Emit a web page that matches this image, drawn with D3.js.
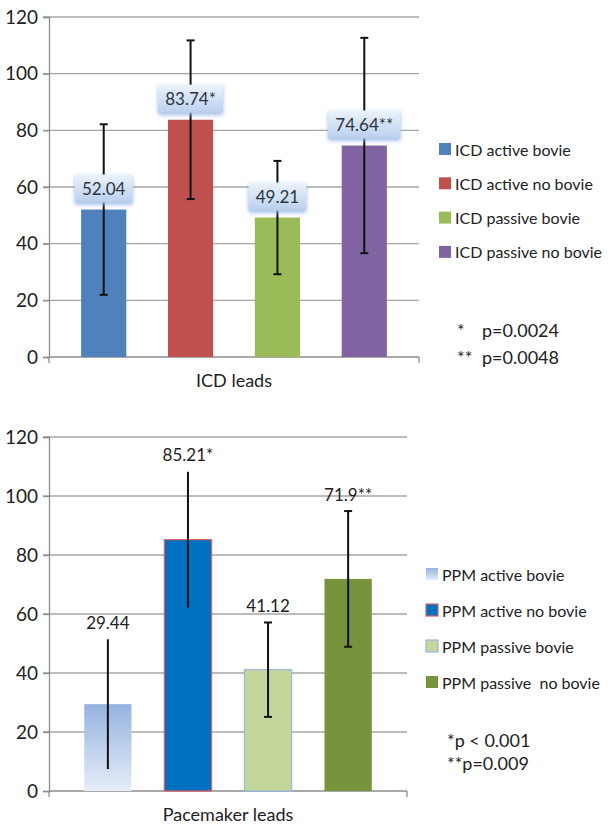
<!DOCTYPE html>
<html>
<head>
<meta charset="utf-8">
<script src="https://cdn.jsdelivr.net/npm/d3@7"></script>
<style>
  body { margin: 0; background: #fff; }
  svg { display: block; font-family: Lato, "Open Sans", sans-serif; }
</style>
</head>
<body>
<div id="chart"></div>
<script>
const width = 609;
const height = 825;

// shared value axis
const yTicks = [0, 20, 40, 60, 80, 100, 120];

// ICD leads panel
const icdSeries = ["ICD active bovie", "ICD active no bovie", "ICD passive bovie", "ICD passive no bovie"];
const icdMeans = [52.04, 83.74, 49.21, 74.64];
const icdErrors = [30.1, 28, 20, 38];
const icdLabels = ["52.04", "83.74*", "49.21", "74.64**"];
const icdNoteMarks = ["*", "**"];
const icdNoteP = ["p=0.0024", "p=0.0048"];

// Pacemaker leads panel
const ppmSeries = ["PPM active bovie", "PPM active no bovie", "PPM passive bovie", "PPM passive  no bovie"];
const ppmMeans = [29.44, 85.21, 41.12, 71.9];
const ppmErrors = [22, 23, 16, 23];
const ppmLabels = ["29.44", "85.21*", "41.12", "71.9**"];
const ppmNotes = ["*p < 0.001", "**p=0.009"];

const svg = d3.select("#chart")
  .append("svg")
    .attr("width", width)
    .attr("height", height);

svg.append("rect").attr("width", width).attr("height", height).attr("fill", "#fff");

const defs = svg.append("defs");

const boxGrad = defs.append("linearGradient")
  .attr("id", "boxGrad").attr("x1", 0).attr("y1", 0).attr("x2", 0).attr("y2", 1);
boxGrad.append("stop").attr("offset", "0%").attr("stop-color", "#edf3fb");
boxGrad.append("stop").attr("offset", "100%").attr("stop-color", "#b9cfee");

const glow = defs.append("filter").attr("id", "glow")
  .attr("x", "-20%").attr("y", "-20%").attr("width", "140%").attr("height", "160%");
glow.append("feGaussianBlur").attr("in", "SourceAlpha").attr("stdDeviation", 2).attr("result", "b");
glow.append("feFlood").attr("flood-color", "#8fb2e3").attr("flood-opacity", 0.9);
glow.append("feComposite").attr("in2", "b").attr("operator", "in").attr("result", "g");
glow.append("feOffset").attr("in", "g").attr("dy", 2).attr("result", "go");
const merge = glow.append("feMerge");
merge.append("feMergeNode").attr("in", "go");
merge.append("feMergeNode").attr("in", "SourceGraphic");

const lightBlue = defs.append("linearGradient")
  .attr("id", "ppmLight").attr("x1", 0).attr("y1", 0).attr("x2", 0).attr("y2", 1);
lightBlue.append("stop").attr("offset", "0%").attr("stop-color", "#95b3e0");
lightBlue.append("stop").attr("offset", "100%").attr("stop-color", "#e6edf8");

const icdStyles = [
  { fill: "#4f81bd", stroke: "none", caps: true },
  { fill: "#c0504d", stroke: "none", caps: true },
  { fill: "#9bbb59", stroke: "none", caps: true },
  { fill: "#8064a2", stroke: "none", caps: true }
];
const ppmStyles = [
  { fill: "url(#ppmLight)", stroke: "none", caps: false },
  { fill: "#0070c0", stroke: "#e06060", caps: false },
  { fill: "#c3d69b", stroke: "#9ab8de", caps: true },
  { fill: "#77933c", stroke: "none", caps: true }
];

function drawPanel(opt) {
  const g = svg.append("g");
  const x = d3.scaleBand()
    .domain(opt.series)
    .range([opt.left, opt.right])
    .paddingInner(opt.padIn)
    .paddingOuter(opt.padOut);
  const y = d3.scaleLinear().domain([0, 120]).range([opt.bottom, opt.top]);

  // gridlines
  g.selectAll(".grid").data(yTicks.filter(t => t > 0)).enter()
    .append("line")
    .attr("x1", opt.left - 6).attr("x2", opt.right)
    .attr("y1", d => y(d)).attr("y2", d => y(d))
    .attr("stroke", "#a6a6a6").attr("stroke-width", 1.3);

  // value axis
  const yAxis = g.append("g")
    .attr("transform", `translate(${opt.left},0)`)
    .call(d3.axisLeft(y).tickValues(yTicks).tickSize(6).tickPadding(5));
  yAxis.select(".domain").attr("stroke", "#8c8c8c").attr("stroke-width", 1.3);
  yAxis.selectAll(".tick line").attr("stroke", "#8c8c8c").attr("stroke-width", 1.3);
  yAxis.selectAll(".tick text")
    .attr("fill", "#222").style("font-size", "19px").style("font-family", "Lato, sans-serif");

  // category axis
  g.append("line")
    .attr("x1", opt.left).attr("x2", opt.right)
    .attr("y1", opt.bottom).attr("y2", opt.bottom)
    .attr("stroke", "#8c8c8c").attr("stroke-width", 1.3);
  [opt.left, opt.right].forEach(px => {
    g.append("line")
      .attr("x1", px).attr("x2", px)
      .attr("y1", opt.bottom).attr("y2", opt.bottom + 6)
      .attr("stroke", "#8c8c8c").attr("stroke-width", 1.3);
  });

  g.append("text")
    .attr("x", (opt.left + opt.right) / 2)
    .attr("y", opt.bottom + 30)
    .attr("text-anchor", "middle")
    .attr("fill", "#222")
    .style("font-size", "18px")
    .text(opt.axisTitle);

  // bars
  g.selectAll(".bar").data(opt.series).enter()
    .append("rect")
    .attr("x", d => x(d))
    .attr("width", x.bandwidth())
    .attr("y", (d, i) => y(opt.means[i]))
    .attr("height", (d, i) => opt.bottom - y(opt.means[i]))
    .attr("fill", (d, i) => opt.styles[i].fill)
    .attr("stroke", (d, i) => opt.styles[i].stroke)
    .attr("stroke-width", 1.2);

  // error bars
  opt.series.forEach((s, i) => {
    const cx = x(s) + x.bandwidth() / 2;
    const hi = y(opt.means[i] + opt.errors[i]);
    const lo = y(opt.means[i] - opt.errors[i]);
    g.append("line")
      .attr("x1", cx).attr("x2", cx).attr("y1", hi).attr("y2", lo)
      .attr("stroke", "#111").attr("stroke-width", 2);
    if (opt.styles[i].caps) {
      [hi, lo].forEach(py => {
        g.append("line")
          .attr("x1", cx - 4).attr("x2", cx + 4).attr("y1", py).attr("y2", py)
          .attr("stroke", "#111").attr("stroke-width", 2);
      });
    }
  });

  // data labels
  opt.series.forEach((s, i) => {
    const cx = x(s) + x.bandwidth() / 2;
    if (opt.boxed) {
      const lbl = g.append("g");
      const t = lbl.append("text")
        .attr("x", cx)
        .attr("y", y(opt.means[i]) - 21)
        .attr("text-anchor", "middle")
        .attr("dominant-baseline", "central")
        .attr("fill", "#2b3440")
        .style("font-size", "17px")
        .text(opt.labels[i]);
      const w = t.node().getComputedTextLength() + 14;
      lbl.insert("rect", "text")
        .attr("x", cx - w / 2)
        .attr("y", y(opt.means[i]) - 35)
        .attr("width", w)
        .attr("height", 28)
        .attr("fill", "url(#boxGrad)")
        .attr("filter", "url(#glow)");
    } else {
      g.append("text")
        .attr("x", cx)
        .attr("y", y(opt.means[i] + opt.errors[i]) - 17)
        .attr("text-anchor", "middle")
        .attr("dominant-baseline", "central")
        .attr("fill", "#222")
        .style("font-size", "17px")
        .text(opt.labels[i]);
    }
  });

  // legend
  opt.series.forEach((s, i) => {
    const ly = opt.legendY + i * opt.legendStep;
    g.append("rect")
      .attr("x", opt.legendX).attr("y", ly - 6)
      .attr("width", 12).attr("height", 12)
      .attr("fill", opt.styles[i].fill)
      .attr("stroke", opt.styles[i].stroke)
      .attr("stroke-width", 1.2);
    g.append("text")
      .attr("x", opt.legendX + 16).attr("y", ly)
      .attr("dominant-baseline", "central")
      .attr("fill", "#222")
      .style("font-size", "16px")
      .style("white-space", "pre")
      .text(s);
  });
  return g;
}

drawPanel({
  series: icdSeries, means: icdMeans, errors: icdErrors, labels: icdLabels, styles: icdStyles,
  left: 49, right: 419, top: 17, bottom: 357, padIn: 0.48, padOut: 0.37,
  axisTitle: "ICD leads", boxed: true,
  legendX: 439, legendY: 149, legendStep: 34.3
});

drawPanel({
  series: ppmSeries, means: ppmMeans, errors: ppmErrors, labels: ppmLabels, styles: ppmStyles,
  left: 49, right: 407, top: 437, bottom: 791, padIn: 0.41, padOut: 0.44,
  axisTitle: "Pacemaker leads", boxed: false,
  legendX: 426, legendY: 574, legendStep: 36
});

// footnotes
icdNoteMarks.forEach((m, i) => {
  svg.append("text").attr("x", 457).attr("y", 330 + i * 27)
    .attr("dominant-baseline", "central").attr("fill", "#222")
    .style("font-size", "18px").text(m);
  svg.append("text").attr("x", 482).attr("y", 330 + i * 27)
    .attr("dominant-baseline", "central").attr("fill", "#222")
    .style("font-size", "18px").text(icdNoteP[i]);
});

ppmNotes.forEach((n, i) => {
  svg.append("text").attr("x", 447).attr("y", 740 + i * 23)
    .attr("dominant-baseline", "central").attr("fill", "#222")
    .style("font-size", "18px").text(n);
});
</script>
</body>
</html>
